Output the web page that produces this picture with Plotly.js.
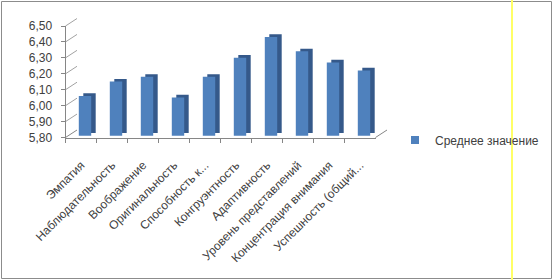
<!DOCTYPE html>
<html>
<head>
<meta charset="utf-8">
<script src="https://cdn.plot.ly/plotly-3.0.1.min.js"></script>
<style>
html,body{margin:0;padding:0;background:#fff;}
#chart{width:553px;height:280px;}
</style>
</head>
<body>
<div id="chart"></div>
<script>
// ---- data ----
const categories = ["Эмпатия","Наблюдательность","Воображение","Оригинальность","Способность к...","Конгруэнтность","Адаптивность","Уровень представлений","Концентрация внимания","Успешность (общий..."];
const values = [6.05, 6.14, 6.17, 6.04, 6.17, 6.29, 6.42, 6.33, 6.26, 6.21];
const seriesName = "Среднее значение";
const yTicks = [5.80, 5.90, 6.00, 6.10, 6.20, 6.30, 6.40, 6.50];
const yRange = [5.80, 6.50];

// ---- layout geometry (pixels) ----
const W = 553, H = 280;
const px = x => x / W;
const py = y => 1 - y / H;
const F = {l: 65.5, r: 375.5, b: 137.5, t: 26};   // front plane
const BACK = {dx: 11.5, dy: 7.5};                  // back wall offset
const SIDE = {dx: 8.5, dy: 4.4};                   // bar depth (dark faces)
const FACE = {dx: 4, dy: 1.8};                     // bar front face

const yFront = v => py(F.b - (v - yRange[0]) / (yRange[1] - yRange[0]) * (F.b - F.t));
const yBack  = v => py(F.b - BACK.dy - (v - yRange[0]) / (yRange[1] - yRange[0]) * (F.b - F.t));

const font = "Liberation Sans, Arial, sans-serif";
const txt = "#404040";
const gridC = "#A2A2A2";
const axC = "#868686";

const dom = (o) => ({x: [px(F.l + o.dx), px(F.r + o.dx)], y: [py(F.b - o.dy), py(F.t - o.dy)]});
const dBack = dom(BACK), dSide = dom(SIDE), dFace = dom(FACE);

const traces = [
  { type: "bar", x: categories, y: values, xaxis: "x3", yaxis: "y3", width: 0.4,
    marker: {color: "#35598A", line: {width: 0}}, showlegend: false, hoverinfo: "skip" },
  { type: "bar", x: categories, y: values, xaxis: "x4", yaxis: "y4", width: 0.4, name: seriesName,
    marker: {color: "#4F81BD", line: {width: 0}}, showlegend: false },
  { type: "scatter", mode: "markers", x: categories, y: categories.map(() => null), name: seriesName,
    marker: {symbol: "square", size: 8, color: "#4F81BD"}, showlegend: true, hoverinfo: "skip" }
];

const hidden = (d, anchor) => ({domain: d, anchor: anchor, visible: false, fixedrange: true});

const shapes = [];
yTicks.forEach(v => {
  shapes.push({type: "line", xref: "paper", yref: "paper", x0: px(F.l), y0: yFront(v), x1: px(F.l + BACK.dx), y1: yBack(v),
    line: {color: v === yRange[0] ? axC : gridC, width: 1}, layer: "below"});
});
shapes.push({type: "line", xref: "paper", yref: "paper", x0: px(F.r), y0: yFront(yRange[0]), x1: px(F.r + BACK.dx), y1: yBack(yRange[0]),
  line: {color: axC, width: 1}, layer: "below"});
// chart frame and yellow guide
shapes.push({type: "rect", xref: "paper", yref: "paper", x0: px(1.5), y0: py(278.5), x1: px(551.5), y1: py(1.5),
  line: {color: "#8C8C8C", width: 1}, fillcolor: "rgba(0,0,0,0)", layer: "above"});
shapes.push({type: "line", xref: "paper", yref: "paper", x0: px(512), y0: 0, x1: px(512), y1: 1,
  line: {color: "#FFFF66", width: 2}, layer: "above"});

const layout = {
  width: W, height: H,
  margin: {l: 0, r: 0, t: 0, b: 0, pad: 0, autoexpand: false},
  paper_bgcolor: "#fff", plot_bgcolor: "rgba(0,0,0,0)",
  separators: ", ",
  font: {family: font, size: 12, color: txt},
  showlegend: true,
  legend: {x: px(395), xanchor: "left", y: py(140), yanchor: "middle", bgcolor: "rgba(0,0,0,0)",
    font: {family: font, size: 12, color: txt}, borderwidth: 0},
  xaxis: {domain: [px(F.l), px(F.r)], anchor: "y", type: "category", range: [-0.5, categories.length - 0.5],
    showline: true, linecolor: axC, linewidth: 1, ticks: "outside", tickson: "boundaries", ticklen: 4, tickcolor: axC,
    tickangle: -45, ticklabelstandoff: 15, tickfont: {family: font, size: 12, color: txt}, showgrid: false, fixedrange: true},
  yaxis: {domain: [py(F.b), py(F.t)], anchor: "x", range: yRange, tickvals: yTicks, tickformat: ".2f",
    showline: true, linecolor: axC, linewidth: 1, ticks: "outside", ticklen: 4, tickcolor: axC, ticklabelstandoff: 6,
    tickfont: {family: font, size: 12, color: txt}, showgrid: false, zeroline: false, fixedrange: true},
  xaxis2: {domain: dBack.x, anchor: "y2", type: "category", range: [-0.5, categories.length - 0.5],
    showline: false, showticklabels: false, ticks: "", showgrid: false, fixedrange: true},
  yaxis2: {domain: dBack.y, anchor: "x2", range: yRange, tickvals: yTicks, showticklabels: false, ticks: "",
    showgrid: true, gridcolor: gridC, gridwidth: 1, showline: false, zeroline: false, fixedrange: true},
  xaxis3: Object.assign(hidden(dSide.x, "y3"), {type: "category", range: [-0.5, categories.length - 0.5]}),
  yaxis3: Object.assign(hidden(dSide.y, "x3"), {range: yRange}),
  xaxis4: Object.assign(hidden(dFace.x, "y4"), {type: "category", range: [-0.5, categories.length - 0.5]}),
  yaxis4: Object.assign(hidden(dFace.y, "x4"), {range: yRange}),
  shapes: shapes,
  bargap: 0.6
};

Plotly.newPlot("chart", traces, layout, {displayModeBar: false, staticPlot: true});
</script>
</body>
</html>
